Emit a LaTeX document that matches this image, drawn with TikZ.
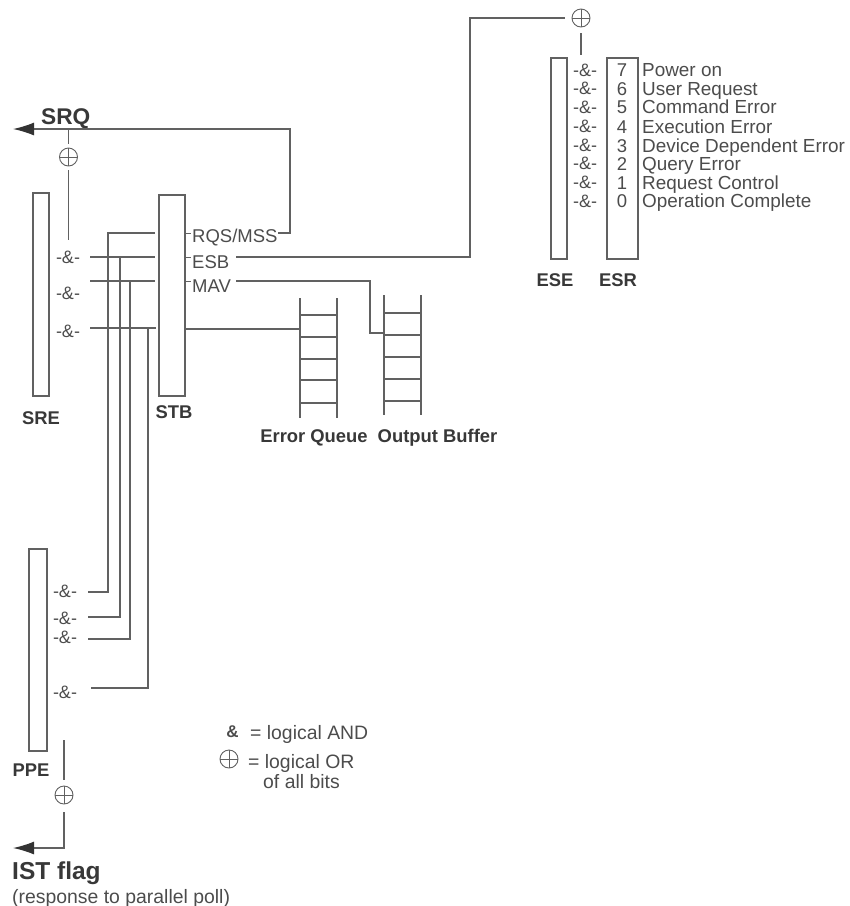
\documentclass[tikz,border=0pt]{standalone}
\usepackage{fontspec}
\setmainfont{Liberation Sans}
\usetikzlibrary{arrows.meta}
\definecolor{ln}{gray}{0.38}
\definecolor{tx}{gray}{0.3}
\definecolor{txb}{gray}{0.22}
\tikzset{
  x=1pt,y=-1pt,
  wire/.style={draw=ln,line width=1.3pt},
  rung/.style={draw=ln,line width=1.1pt},
  reg/.style={draw=ln,line width=1.5pt,fill=white,inner sep=0pt,anchor=north west},
  xor/.style={circle,draw=ln,line width=0.9pt,minimum size=18pt,inner sep=0pt,
    path picture={\draw[ln,line width=0.9pt] (path picture bounding box.north)--(path picture bounding box.south)
      (path picture bounding box.west)--(path picture bounding box.east);}},
  lab/.style={text=tx,font=\fontsize{18.5}{18.5}\selectfont,inner sep=0pt,anchor=base west},
  errlab/.style={text=tx,font=\fontsize{18.9}{18.9}\selectfont,inner sep=0pt,anchor=base west},
  leg/.style={text=tx,font=\fontsize{19.4}{19.4}\selectfont,inner sep=0pt,anchor=base west},
  andl/.style={text=tx,font=\fontsize{18}{18}\selectfont,inner sep=0pt,anchor=base},
  bold/.style={text=txb,font=\bfseries\fontsize{18.4}{18.4}\selectfont,inner sep=0pt},
  arr/.style={-{Latex[length=21pt,width=13pt,color=black!80]}},
}
\begin{document}
\begin{tikzpicture}
\useasboundingbox (0,0) rectangle (850,906);
% registers
\node[reg,minimum width=16pt,minimum height=203pt] (sre) at (32,192) {};
\node[reg,minimum width=26pt,minimum height=201pt] (stb) at (158,194) {};
\node[reg,minimum width=18pt,minimum height=202pt] (ppe) at (28,548) {};
\node[reg,minimum width=16pt,minimum height=201pt] (ese) at (550,57) {};
\node[reg,minimum width=31pt,minimum height=201pt] (esr) at (606,57) {};
% register labels
\node[bold] (lsre) at (41,418) {SRE};
\node[bold] (lstb) at (174,412) {STB};
\node[bold] (lppe) at (31,770) {PPE};
\node[bold] (lese) at (555,280) {ESE};
\node[bold] (lesr) at (618,280) {ESR};
\node[bold] (leq) at (314,438) {Error Queue};
\node[bold] (lob) at (437.5,438) {Output Buffer};
% xor
\node[xor] (xa) at (68.5,157) {};
\node[xor] (xb) at (581,18) {};
\node[xor] (xc) at (64,795) {};
\node[xor] (xd) at (229,759) {};
% text
\node[text=txb,font=\bfseries\fontsize{22.7}{22.7}\selectfont,inner sep=0pt,anchor=base west] (srq) at (41,124) {SRQ};
\node[text=txb,font=\bfseries\fontsize{24.5}{24.5}\selectfont,inner sep=0pt,anchor=base west] (ist) at (12,879) {IST flag};
\node[leg] (par) at (12,903) {(response to parallel poll)};
\node[lab] (rqs) at (192,242) {RQS/MSS};
\node[lab] (esb) at (192,268) {ESB};
\node[lab] (mav) at (192,292) {MAV};
\foreach \n/\y in {a/263,b/299,c/337}{\node[andl] (s\n) at (68,\y) {-\&-};}
\foreach \n/\y in {a/597,b/624,c/643,d/698}{\node[andl] (p\n) at (65,\y) {-\&-};}
\foreach \d/\t/\y in {7/Power on/76.5,6/User Request/95,5/Command Error/113.5,4/Execution Error/133,3/Device Dependent Error/152,2/Query Error/170,1/Request Control/189,0/Operation Complete/207.5}{
  \node[andl] (e\d) at (585,\y-0.5) {-\&-};
  \node[lab,anchor=base] (d\d) at (622,\y) {\d};
  \node[errlab] (t\d) at (642,\y) {\t};
}
% legend
\node[text=tx,font=\bfseries\fontsize{17}{17}\selectfont,inner sep=0pt] (la) at (232.5,732) {\&};
\node[leg] (lb) at (250,739) {= logical AND};
\node[leg] (lc) at (248,768) {= logical OR};
\node[leg] (ld) at (263,788) {of all bits};
% ladders
\foreach \nm/\xa/\xb/\ya/\yb/\r in {q/300/337/298/418/{315,337,359,380,403},o/384/421/295/415/{313,335,357,379,401}}{
  \coordinate (\nm a) at (\xa,\ya); \coordinate (\nm b) at (\xb,\ya);
  \coordinate (\nm c) at (\xa,\yb); \coordinate (\nm d) at (\xb,\yb);
  \draw[rung] (\nm a)--(\nm c) (\nm b)--(\nm d);
  \foreach \y in \r {\draw[rung] (\xa,\y)--(\xb,\y);}
}
% connectors
\coordinate (srqtip) at (13,129);
\coordinate (srqc) at (290,129);
\coordinate (srqd) at (290,233);
\coordinate (srqe) at (278,233);
\draw[wire,arr] (srqe)--(srqd)--(srqc)--(srqtip);
\coordinate (xat) at (68.5,129);
\draw[wire,shorten >=4pt] (xat)--(xa.north);
\coordinate (xab) at (68.5,240);
\draw[wire,shorten <=4pt] (xa.south)--(xab);
% bus
\coordinate (j1) at (108,233); \coordinate (j1e) at (108,592);
\coordinate (j2) at (120,257); \coordinate (j2e) at (120,617);
\coordinate (j3) at (130,281); \coordinate (j3e) at (130,639);
\coordinate (j4) at (148,328); \coordinate (j4e) at (148,688);
\coordinate (s1) at (90,257); \coordinate (s2) at (90,281); \coordinate (s3) at (90,328);
\coordinate (p1) at (88,592); \coordinate (p2) at (88,617); \coordinate (p3) at (88,639); \coordinate (p4) at (91,688);
\draw[wire,shorten <=3pt] (stb.west|-j1)--(j1)--(j1e)--(p1);
\draw[wire,shorten >=3pt] (s1)--(stb.west|-s1);
\draw[wire,shorten >=3pt] (s2)--(stb.west|-s2);
\draw[wire,shorten >=2pt] (s3)--(stb.west|-s3);
\draw[wire] (j2)--(j2e)--(p2);
\draw[wire] (j3)--(j3e)--(p3);
\draw[wire] (j4)--(j4e)--(p4);
% STB outputs
\coordinate (q1) at (300,329);
\draw[wire] (stb.east|-q1)--(q1);
\foreach \y in {233,257,281}{\draw[rung,line width=0.8pt] (184,\y)--(191,\y);}
\coordinate (esba) at (236,257); \coordinate (esbb) at (470,257);
\coordinate (esbd) at (470,18);
\draw[wire,shorten >=7pt] (esba)--(esbb)--(esbd)--(xb.west);
\coordinate (xbb) at (581,55);
\draw[wire,shorten <=6pt] (xb.south)--(xbb);
\coordinate (mava) at (236,281); \coordinate (mavb) at (370,281); \coordinate (mavc) at (370,333); \coordinate (mavd) at (384,333);
\draw[wire] (mava)--(mavb)--(mavc)--(mavd);
% IST
\coordinate (xct) at (64,740);
\draw[wire,shorten >=6pt] (xct)--(xc.north);
\coordinate (istb) at (64,848); \coordinate (istt) at (13,848);
\draw[wire,arr,shorten <=8pt] (xc.south)--(istb)--(istt);
\end{tikzpicture}
\end{document}
